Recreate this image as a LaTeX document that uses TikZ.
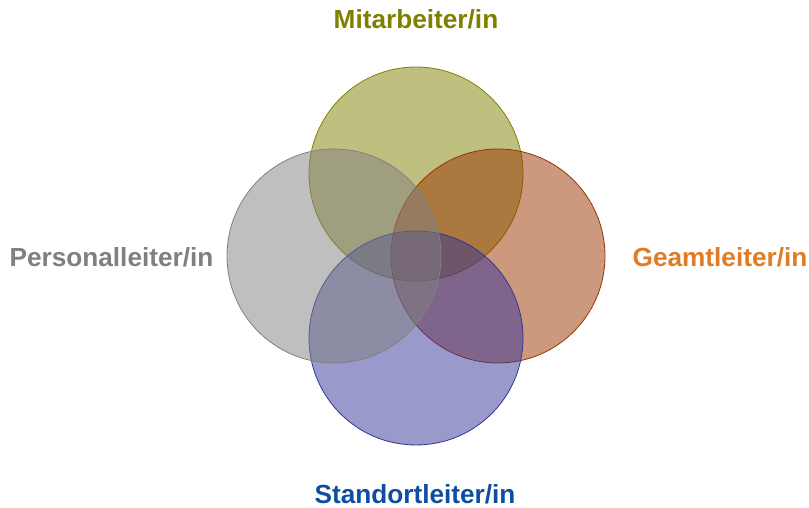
\documentclass[tikz,border=0pt]{standalone}
\usepackage{fontspec}
\setmainfont{Liberation Sans}
\usetikzlibrary{positioning}
\definecolor{mitarb}{RGB}{128,128,0}
\definecolor{personal}{RGB}{128,128,128}
\definecolor{gesamt}{RGB}{153,51,0}
\definecolor{gesamttext}{RGB}{224,124,34}
\definecolor{standort}{RGB}{51,51,153}
\definecolor{standorttext}{RGB}{14,78,160}
\tikzset{
  kreis/.style={draw=#1, fill=#1, fill opacity=0.5, line width=0.8bp},
  rolle/.style={anchor=base, inner sep=0pt, font=\fontsize{26.3}{30}\selectfont\bfseries}
}

\begin{document}
\begin{tikzpicture}[x=1bp, y=1bp]
				
					\useasboundingbox (0,0) rectangle (809,508);
					
					\draw[kreis=mitarb] (416,334) circle (107);
					\draw[kreis=gesamt] (498,252) circle (107);
					\draw[kreis=standort] (416,170) circle (107);
					\draw[kreis=personal] (334,252) circle (107);
					
					\node[rolle, text=mitarb] (mitarbeiter) at (416,479.5) {Mitarbeiter/in};
					\node[rolle, text=personal] (personalleiter) at (111.5,241) {Personalleiter/in};
					\node[rolle, text=gesamttext] (gesamtleiter) at (720,241) {Geamtleiter/in};
					\node[rolle, text=standorttext] (standortleiter) at (415,4.7) {Standortleiter/in};

				\end{tikzpicture}
\end{document}
